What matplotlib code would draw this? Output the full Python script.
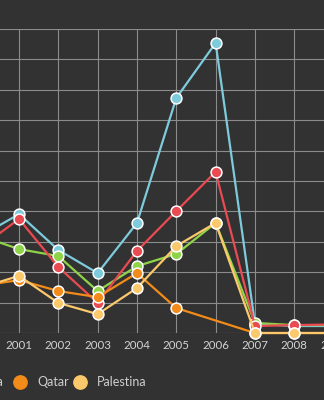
import numpy as np
import matplotlib
matplotlib.use("Agg")
import matplotlib.pyplot as plt
from matplotlib.lines import Line2D

years = [2000, 2001, 2002, 2003, 2004, 2005, 2006, 2007, 2008, 2009]
series_names = ["Jordania", "Siria", "Arabia Saudita", "Qatar", "Palestina"]
blue_vals = [31.7, 39.1, 27.3, 19.7, 36.2, 77.3, 95.4, 3.0, 2.3, 2.3]
red_vals = [28.0, 37.5, 21.7, 9.9, 27.0, 40.1, 53.0, 2.3, 2.6, 2.8]
green_vals = [32.0, 27.6, 25.3, 13.8, 22.0, 26.0, 36.2, 3.3, 2.6, 2.6]
qatar_vals = [15.5, 17.4, 13.8, 11.8, 19.7, 8.2, np.nan, 0.0, 0.0, 0.0]
palestina_vals = [14.8, 18.8, 9.9, 6.2, 14.8, 28.6, 36.2, 0.0, 0.0, 0.0]
colors = ["#7ecbdc", "#ea4a52", "#8fd448", "#f28b1a", "#fbc86c"]

BG = "#323232"
W, H = 324, 400
fig = plt.figure(figsize=(W / 100, H / 100), dpi=100, facecolor=BG)

# axes spanning beyond the visible area (reference is a crop)
x2000, x2009 = -20.3, 333.6
ybase, ytop = 333, 29
ax = fig.add_axes([x2000 / W, (H - ybase) / H, (x2009 - x2000) / W, (ybase - ytop) / H])
ax.set_facecolor(BG)
ax.set_xlim(2000, 2009)
ax.set_ylim(0, 100)
for s in ax.spines.values():
    s.set_visible(False)
ax.set_yticks(np.arange(0, 101, 10))
ax.set_yticklabels([])
ax.set_xticks(years)
ax.set_xticklabels([str(y) for y in years])
ax.tick_params(axis="both", length=0)
ax.tick_params(axis="x", pad=5, colors="#d4d4d4", labelsize=8.3)
for lab in ax.get_xticklabels():
    lab.set_family(["Liberation Sans Narrow", "Lato", "DejaVu Sans"])
ax.grid(True, color="#8c8c8c", lw=0.8)
ax.set_axisbelow(True)

all_vals = [blue_vals, red_vals, green_vals, qatar_vals, palestina_vals]
z_order = [3, 5, 4, 6, 7]
yrs = np.array(years, dtype=float)
for vals, c, z in zip(all_vals, colors, z_order):
    v = np.array(vals, dtype=float)
    m = ~np.isnan(v)
    ax.plot(yrs[m], v[m], color=c, lw=1.6, marker="o", markersize=7.8,
            markerfacecolor=c, markeredgecolor="white", markeredgewidth=1.1,
            clip_on=False, zorder=z)

# manual legend (partly cropped on the left)
fam = ["Liberation Sans Narrow", "Lato", "DejaVu Sans"]
ly = (H - 382) / H
gap = 17
fs = 9.0
fig.canvas.draw()
renderer = fig.canvas.get_renderer()

def add_marker(mx, color):
    fig.add_artist(Line2D([mx / W], [ly], marker="o", markersize=9.6, color=color,
                          markeredgecolor=color, linestyle="none", transform=fig.transFigure))

# visible entries: Qatar and Palestina
add_marker(20, colors[3])
fig.text((20 + gap) / W, ly, series_names[3], color="#cfcfcf", fontsize=fs,
         family=fam, va="center", ha="left")
add_marker(80, colors[4])
fig.text((80 + gap) / W, ly, series_names[4], color="#cfcfcf", fontsize=fs,
         family=fam, va="center", ha="left")
# entries to the left (cut off)
right_edge = 20 - gap
for idx in [2, 1, 0]:
    t = fig.text(right_edge / W, ly, series_names[idx], color="#cfcfcf", fontsize=fs,
                 family=fam, va="center", ha="right")
    wpx = t.get_window_extent(renderer).width
    mx = right_edge - wpx - gap
    add_marker(mx, colors[idx])
    right_edge = mx - gap

fig.savefig("out.png", dpi=100, facecolor=BG)
